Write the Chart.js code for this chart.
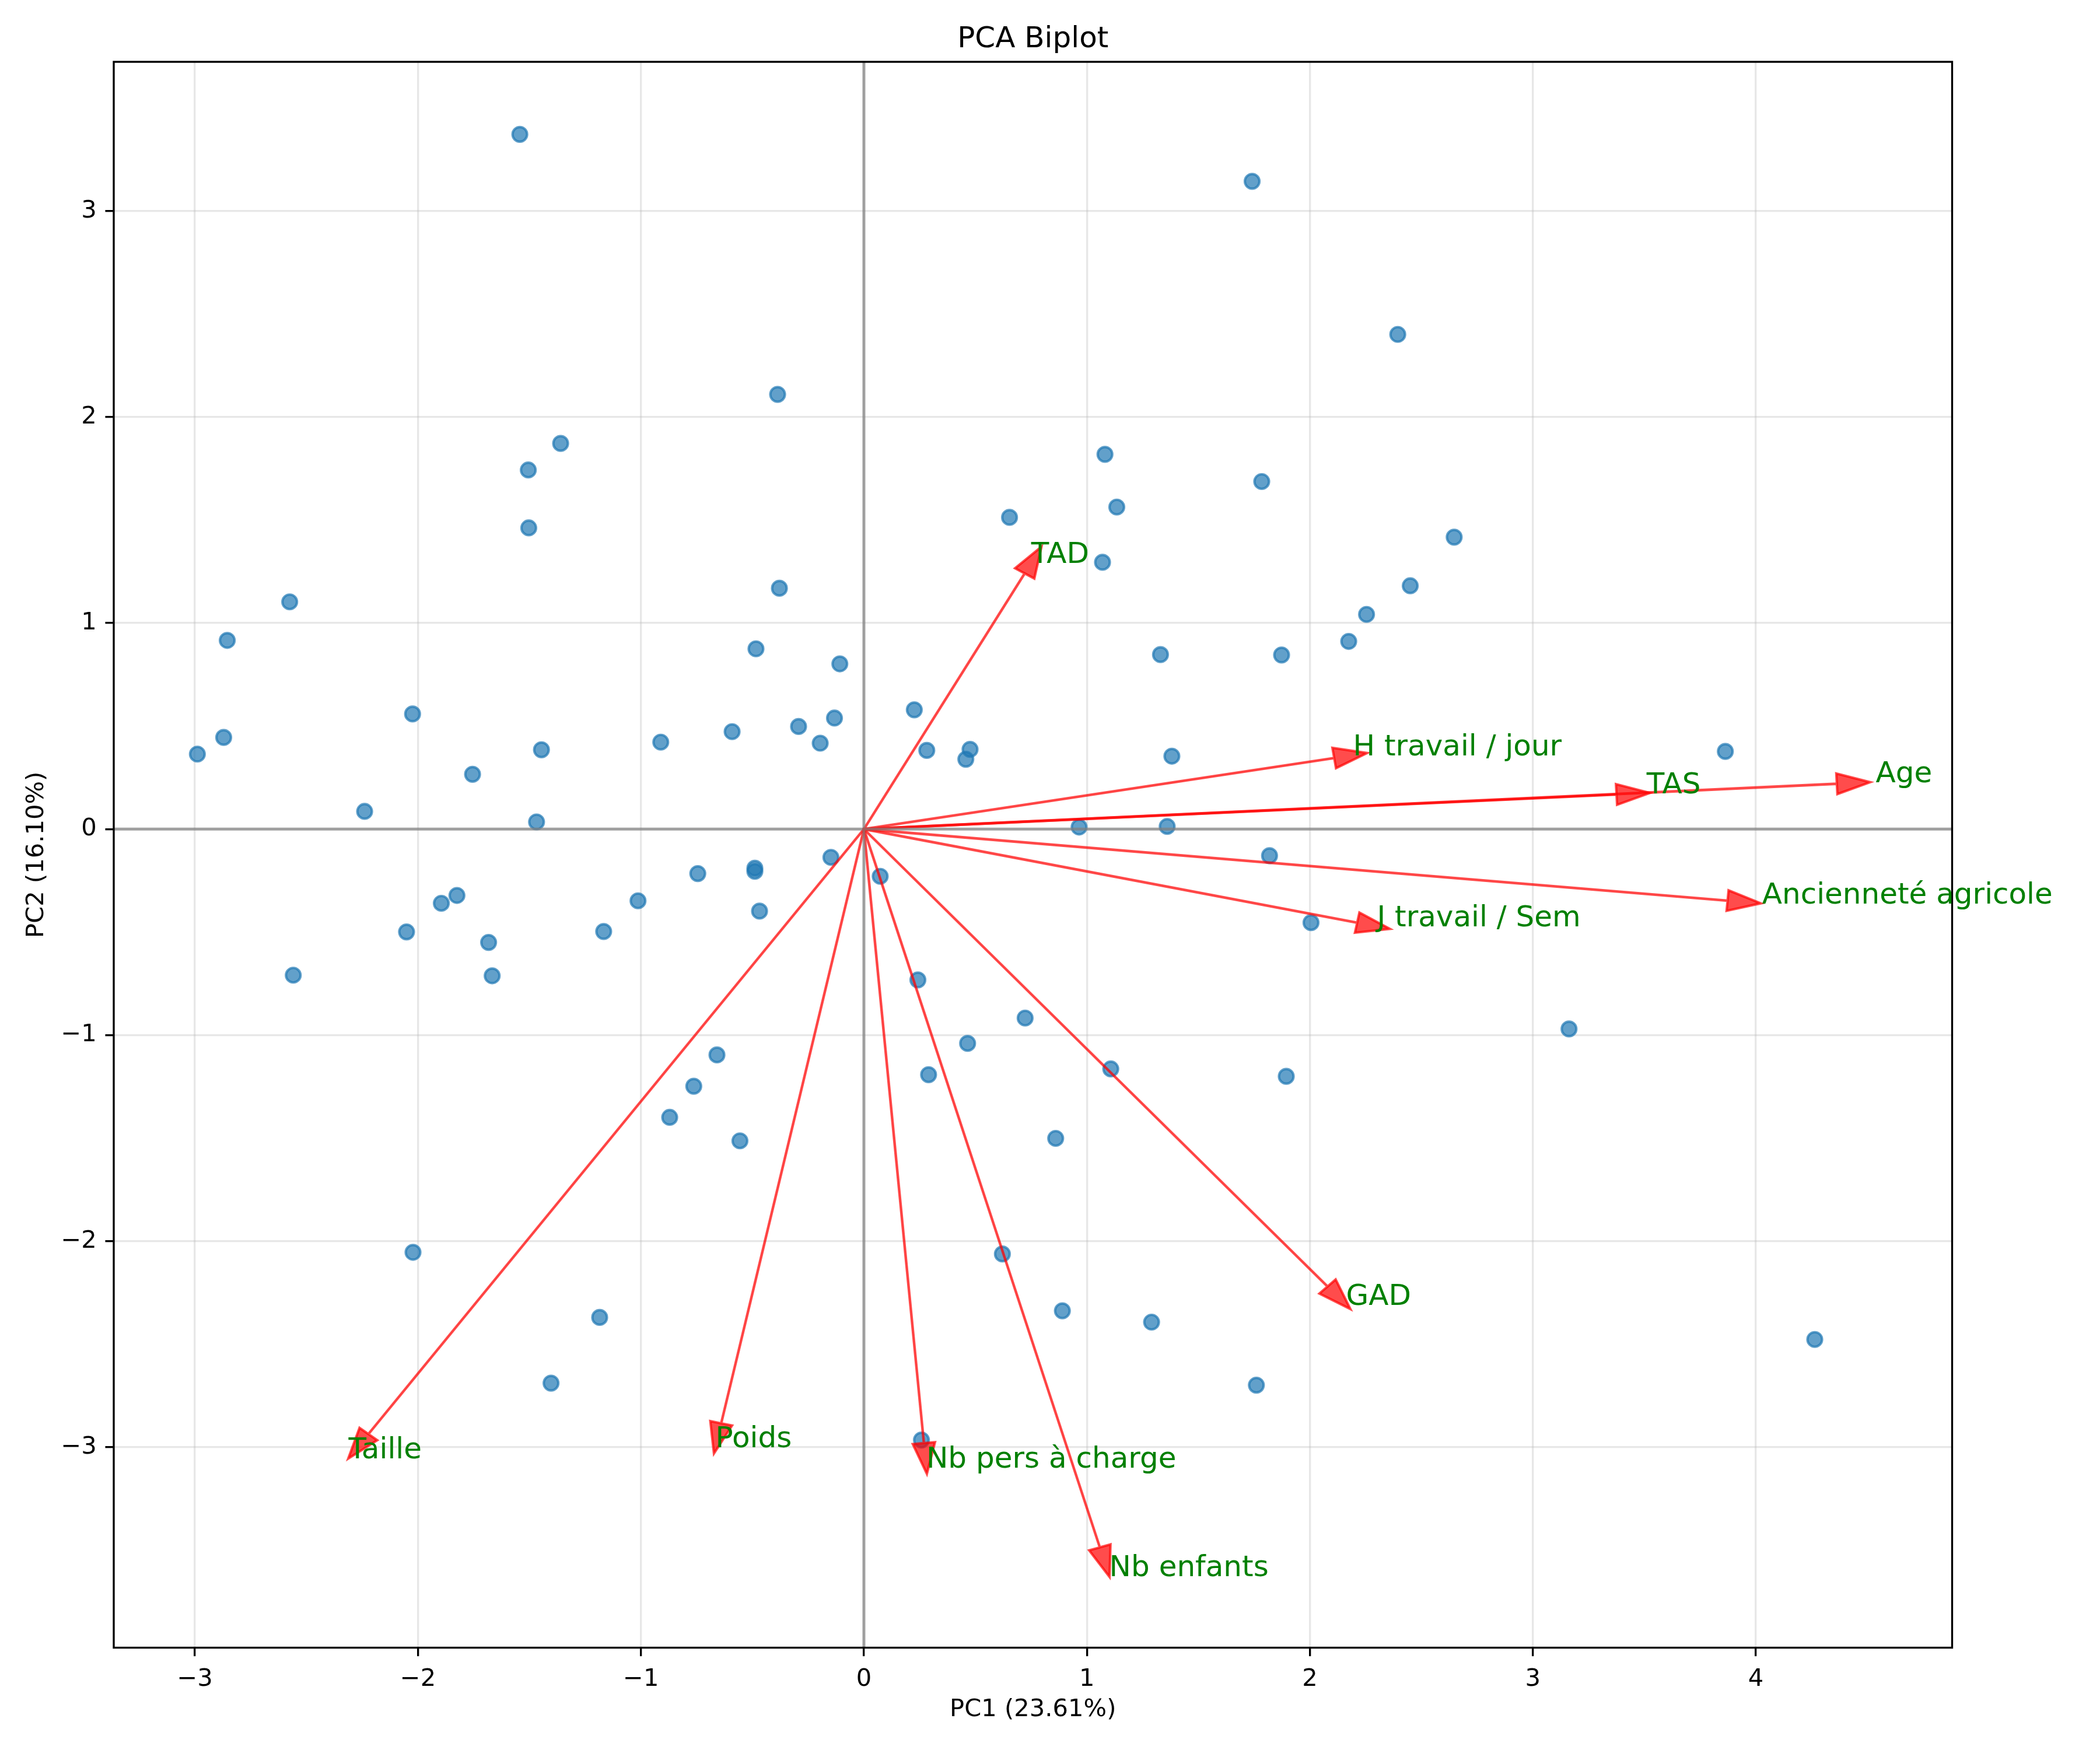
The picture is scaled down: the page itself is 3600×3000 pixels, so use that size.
<!DOCTYPE html>
<html lang="fr">
<head>
<meta charset="utf-8">
<title>PCA Biplot</title>
<script src="https://cdn.jsdelivr.net/npm/chart.js@4.4.0/dist/chart.umd.min.js"></script>
<style>
  html, body { margin: 0; padding: 0; background: #ffffff; }
  #wrap { width: 3600px; height: 3000px; }
  canvas { display: block; background: #ffffff; }
</style>
</head>
<body>
<div id="wrap"><canvas id="biplot" width="3600" height="3000"></canvas></div>
<script>
// --- Scores des individus (PC1, PC2) ---
const pc1Scores = [
  -1.543, -0.387, -1.360, -1.505, -1.503, 0.653, -2.575, -2.855, -0.379, -0.484,
  -0.108, -2.024, 0.226, -2.871, -2.989, -0.132, -0.293, -0.591, -0.911, -0.196,
  -1.446, -1.755, 0.282, 0.476, 0.457, -2.239, -1.468,
  1.741, 2.394, 1.081, 1.784, 1.134, 1.070, 2.647, 2.450, 2.254, 2.174,
  1.330, 1.873, 1.381, 3.863, 0.965, 1.360, 1.819,
  -0.745, -0.489, -0.489, -0.148, 0.073, -1.825, -1.895, -1.013, -0.468, -2.051,
  -1.167, -1.683, -2.559, -1.667, 0.242, 0.723, 0.465, -0.659, 0.290, -0.763,
  -0.871, -0.556, -2.022, 0.621, -1.185, -1.403, 0.258,
  2.005, 3.162, 1.107, 1.894, 0.860, 0.890, 1.290, 1.760, 4.264,
];
const pc2Scores = [
  3.372, 2.110, 1.872, 1.743, 1.462, 1.513, 1.103, 0.916, 1.169, 0.875,
  0.802, 0.559, 0.579, 0.445, 0.364, 0.539, 0.498, 0.473, 0.422, 0.417,
  0.385, 0.266, 0.382, 0.387, 0.339, 0.086, 0.035,
  3.144, 2.401, 1.819, 1.687, 1.563, 1.295, 1.417, 1.181, 1.042, 0.911,
  0.847, 0.845, 0.354, 0.377, 0.010, 0.013, -0.129,
  -0.216, -0.190, -0.205, -0.137, -0.229, -0.322, -0.360, -0.348, -0.398, -0.499,
  -0.497, -0.550, -0.709, -0.712, -0.732, -0.917, -1.040, -1.096, -1.192, -1.248,
  -1.399, -1.513, -2.054, -2.062, -2.370, -2.689, -2.965,
  -0.454, -0.970, -1.164, -1.200, -1.501, -2.338, -2.393, -2.699, -2.477,
];

// --- Variables (vecteurs des charges, déjà mis à l'échelle) ---
const variableNames = [
  "Age", "Ancienneté agricole", "TAS", "TAD", "H travail / jour", "J travail / Sem",
  "GAD", "Nb enfants", "Nb pers à charge", "Poids", "Taille",
];
const pc1Loadings = [4.363, 3.873, 3.375, 0.721, 2.109, 2.212, 2.079, 1.058, 0.269, -0.640, -2.222];
const pc2Loadings = [0.220, -0.347, 0.168, 1.241, 0.345, -0.454, -2.220, -3.486, -2.980, -2.884, -2.936];

const pc1Label = "PC1 (23.61%)";
const pc2Label = "PC2 (16.10%)";
const chartTitle = "PCA Biplot";

// --- Style (façon matplotlib, 12x10 in à 300 dpi) ---
const FONT = "'DejaVu Sans', 'Liberation Sans', sans-serif";
const PT = 300 / 72;
const HEAD_WIDTH = 0.1;
const HEAD_LENGTH = 0.15;
const SHAFT_WIDTH = 0.001;
const LABEL_SCALE = 1.04;

const fmtTick = (v) => (Number.isInteger(v) ? String(v).replace("-", "\u2212") : "");

const biplotPlugin = {
  id: "biplot",
  afterDatasetsDraw(chart) {
    const { ctx, chartArea, scales } = chart;
    const sx = (v) => scales.x.getPixelForValue(v);
    const sy = (v) => scales.y.getPixelForValue(v);
    const w = chartArea.right - chartArea.left;
    const h = chartArea.bottom - chartArea.top;

    ctx.save();
    ctx.beginPath();
    ctx.rect(chartArea.left, chartArea.top, w, h);
    ctx.clip();

    // fleches des variables
    ctx.lineJoin = "miter";
    for (let i = 0; i < variableNames.length; i++) {
      const dx = pc1Loadings[i];
      const dy = pc2Loadings[i];
      const len = Math.hypot(dx, dy);
      const ux = dx / len, uy = dy / len;
      const px = -uy, py = ux;
      const hw = HEAD_WIDTH / 2, sw = SHAFT_WIDTH / 2;
      const pts = [
        [sw * px, sw * py],
        [dx + sw * px, dy + sw * py],
        [dx + hw * px, dy + hw * py],
        [dx + HEAD_LENGTH * ux, dy + HEAD_LENGTH * uy],
        [dx - hw * px, dy - hw * py],
        [dx - sw * px, dy - sw * py],
        [-sw * px, -sw * py],
      ];
      ctx.beginPath();
      pts.forEach(([x, y], k) => (k ? ctx.lineTo(sx(x), sy(y)) : ctx.moveTo(sx(x), sy(y))));
      ctx.closePath();
      ctx.fillStyle = "rgba(255, 0, 0, 0.7)";
      ctx.fill();
      ctx.lineWidth = 1 * PT;
      ctx.strokeStyle = "rgba(255, 0, 0, 0.7)";
      ctx.stroke();
    }

    // axes passant par zero
    ctx.lineWidth = 1.2 * PT;
    ctx.strokeStyle = "rgba(128, 128, 128, 0.7)";
    ctx.beginPath();
    ctx.moveTo(chartArea.left, sy(0));
    ctx.lineTo(chartArea.right, sy(0));
    ctx.moveTo(sx(0), chartArea.top);
    ctx.lineTo(sx(0), chartArea.bottom);
    ctx.stroke();
    ctx.restore();

    // cadre
    ctx.save();
    ctx.lineWidth = 0.8 * PT;
    ctx.strokeStyle = "#000000";
    ctx.strokeRect(chartArea.left, chartArea.top, w, h);

    // noms des variables (non coupés par le cadre, comme plt.text)
    ctx.font = `${12 * PT}px ${FONT}`;
    ctx.fillStyle = "#008000";
    ctx.textAlign = "left";
    ctx.textBaseline = "alphabetic";
    for (let i = 0; i < variableNames.length; i++) {
      ctx.fillText(variableNames[i], sx(pc1Loadings[i] * LABEL_SCALE), sy(pc2Loadings[i] * LABEL_SCALE));
    }

    // titre
    ctx.fillStyle = "#000000";
    ctx.textAlign = "center";
    ctx.fillText(chartTitle, chartArea.left + w / 2, chartArea.top - 6 * PT);
    ctx.restore();
  },
};

const tickFont = { family: FONT, size: 10 * PT };
const gridStyle = {
  color: "rgba(176, 176, 176, 0.3)",
  lineWidth: 0.8 * PT,
  drawTicks: true,
  tickLength: 3.5 * PT,
  tickColor: "#000000",
  tickWidth: 0.8 * PT,
};

const ctx = document.getElementById("biplot").getContext("2d");
const biplot = new Chart(ctx, {
  type: "scatter",
  data: {
    datasets: [
      {
        label: "Individus",
        data: pc1Scores.map((x, i) => ({ x, y: pc2Scores[i] })),
        pointRadius: 12.5,
        pointBorderWidth: 1 * PT,
        pointBackgroundColor: "rgba(31, 119, 180, 0.7)",
        pointBorderColor: "rgba(31, 119, 180, 0.7)",
        pointHoverRadius: 12.5,
      },
    ],
  },
  options: {
    responsive: false,
    animation: false,
    devicePixelRatio: 1,
    events: [],
    layout: { padding: { left: 0, right: 253.5, top: 106, bottom: 0 } },
    plugins: {
      legend: { display: false },
      tooltip: { enabled: false },
      title: { display: false },
    },
    scales: {
      x: {
        type: "linear",
        min: -3.364,
        max: 4.88,
        afterFit: (s) => { s.height = 175.4; },
        ticks: {
          stepSize: 1,
          includeBounds: false,
          font: tickFont,
          color: "#000000",
          padding: 3.5 * PT,
          maxRotation: 0,
          callback: fmtTick,
        },
        grid: gridStyle,
        border: { display: false },
        title: {
          display: true,
          text: pc1Label,
          color: "#000000",
          font: tickFont,
          padding: { top: 0, bottom: 44 },
        },
      },
      y: {
        type: "linear",
        min: -3.973,
        max: 3.724,
        afterFit: (s) => { s.width = 195; },
        ticks: {
          stepSize: 1,
          includeBounds: false,
          font: tickFont,
          color: "#000000",
          padding: 3.5 * PT,
          callback: fmtTick,
        },
        grid: gridStyle,
        border: { display: false },
        title: {
          display: true,
          text: pc2Label,
          color: "#000000",
          font: tickFont,
          padding: { top: 38, bottom: 0 },
        },
      },
    },
  },
  plugins: [biplotPlugin],
});
</script>
</body>
</html>
